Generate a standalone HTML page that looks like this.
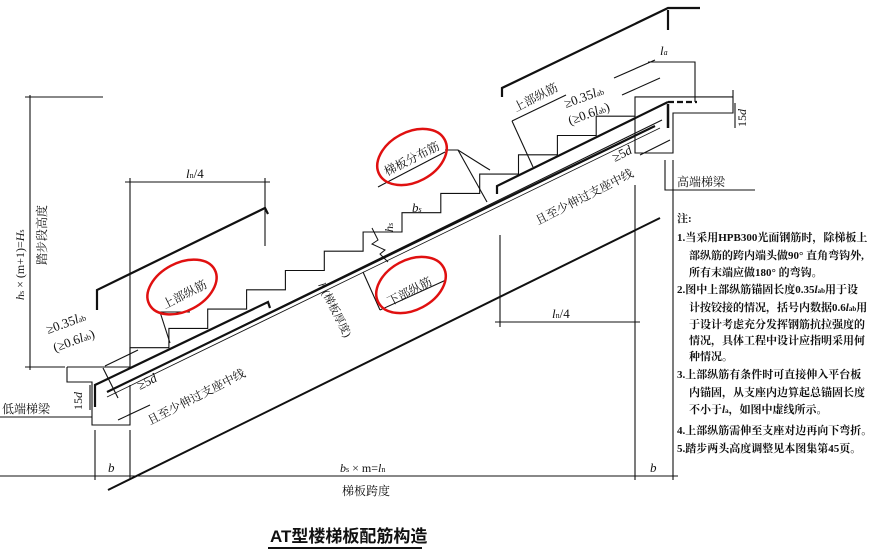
<!DOCTYPE html>
<html><head><meta charset="utf-8"><style>
html,body{margin:0;padding:0;background:#fff}
svg{display:block}
text{font-family:"Liberation Serif","Noto Serif CJK SC","Noto Sans CJK SC",serif;fill:#111}
.c{font-family:"Liberation Sans","Noto Sans CJK SC",sans-serif}
</style></head><body>
<svg width="887" height="555" viewBox="0 0 887 555" xmlns="http://www.w3.org/2000/svg">
<g fill="none" stroke="#111" stroke-width="1.1">
<polyline points="67,367 130,367 130,347.7 168.9,347.7 168.9,328.4 207.7,328.4 207.7,309.1 246.6,309.1 246.6,289.8 285.4,289.8 285.4,270.5 324.3,270.5 324.3,251.2 363.1,251.2 363.1,232 402,232 402,212.7 440.8,212.7 440.8,193.4 479.7,193.4 479.7,174.1 518.5,174.1 518.5,154.8 557.4,154.8 557.4,135.5 596.2,135.5 596.2,116.2 635,116.2 635,96.9 733,96.9"/>
<polyline points="67,367 67,382 92,382 92,425 130,425 130,385"/>
<line x1="130" y1="381" x2="662" y2="120"/>
<polyline points="635,116 635,153 673,153 673,113 733,113 733,90"/>
<line x1="108" y1="490" x2="660" y2="218" stroke-width="2"/>
<line x1="107" y1="392" x2="655" y2="126" stroke-width="2.2"/>
<line x1="107" y1="397" x2="660" y2="128" stroke-width="0.8"/>
<polyline points="95,407 95,385 268,302 270,308" stroke-width="2.2"/>
<polyline points="497,194 497,186 668,102" stroke-width="2.2"/>
<line x1="668" y1="102" x2="697" y2="102" stroke-width="2.2" stroke-dasharray="6,3"/>
<line x1="668" y1="104" x2="668" y2="128" stroke-width="2.5"/>
<polyline points="97,310 97,290 265,208 268,214" stroke-width="2.2"/>
<polyline points="502,97 502,88 668,8 700,8" stroke-width="2.2"/>
<line x1="668" y1="10" x2="668" y2="30" stroke-width="2.2"/>
<polyline points="372,228 378,240 372,244 385,250 380,254 388,262" stroke-width="1"/>
<line x1="30" y1="95" x2="30" y2="370"/><line x1="25" y1="97" x2="103" y2="97"/><line x1="25" y1="367" x2="65" y2="367"/>
<line x1="130" y1="178" x2="130" y2="360"/><line x1="265" y1="178" x2="265" y2="246"/><line x1="125" y1="182" x2="270" y2="182"/>
<line x1="500" y1="235" x2="500" y2="327"/><line x1="635" y1="185" x2="635" y2="480"/><line x1="495" y1="322" x2="640" y2="322"/>
<line x1="0" y1="476" x2="678" y2="476"/>
<line x1="95" y1="430" x2="95" y2="480"/><line x1="130" y1="430" x2="130" y2="480"/><line x1="673" y1="160" x2="673" y2="480"/>
<line x1="0" y1="417" x2="92" y2="417"/>
<polyline points="665,160 665,190 755,190"/>
<polyline points="648,62 695,62 695,102"/>
<line x1="90" y1="385" x2="90" y2="410"/>
<line x1="735" y1="103" x2="735" y2="128"/>
<line x1="103" y1="368" x2="118" y2="398"/><line x1="105" y1="366" x2="138" y2="350"/>
<line x1="118" y1="420" x2="150" y2="405"/>
<line x1="614" y1="78" x2="655" y2="60"/><line x1="622" y1="95" x2="660" y2="78"/>
<line x1="640" y1="155" x2="670" y2="140"/>
<polyline points="160,312 190,312"/><line x1="160" y1="312" x2="170" y2="343"/>
<line x1="378" y1="187" x2="445" y2="152"/><polyline points="445,150 458,150 485,167 490,170"/><line x1="458" y1="150" x2="487" y2="202"/>
<line x1="380" y1="310" x2="446" y2="280"/><line x1="380" y1="310" x2="363" y2="272"/>
<line x1="512" y1="121" x2="566" y2="95"/><line x1="512" y1="121" x2="533" y2="167"/>
</g>
<g fill="none" stroke="#e01010" stroke-width="2.5">
<ellipse cx="182" cy="287" rx="37" ry="24" transform="rotate(-28 182 287)"/>
<ellipse cx="412" cy="157" rx="37" ry="25" transform="rotate(-28 412 157)"/>
<ellipse cx="411" cy="285" rx="37" ry="25" transform="rotate(-28 411 285)"/>
</g>
<g font-size="12">
<text transform="translate(165,309) rotate(-27)">上部纵筋</text>
<text transform="translate(387,176) rotate(-27)">梯板分布筋</text>
<text transform="translate(390,306) rotate(-27)">下部纵筋</text>
<text transform="translate(516,112) rotate(-27)">上部纵筋</text>
<text transform="translate(48,334) rotate(-20)" font-size="13">≥0.35<tspan font-style="italic">l</tspan><tspan font-size="8">ab</tspan></text>
<text transform="translate(55,352) rotate(-20)" font-size="13">(≥0.6<tspan font-style="italic">l</tspan><tspan font-size="8">ab</tspan>)</text>
<text transform="translate(566,108) rotate(-20)" font-size="13">≥0.35<tspan font-style="italic">l</tspan><tspan font-size="8">ab</tspan></text>
<text transform="translate(570,125) rotate(-20)" font-size="13">(≥0.6<tspan font-style="italic">l</tspan><tspan font-size="8">ab</tspan>)</text>
<text transform="translate(140,390) rotate(-27)" font-size="13">≥5<tspan font-style="italic">d</tspan></text>
<text transform="translate(150,425) rotate(-27)">且至少伸过支座中线</text>
<text transform="translate(615,162) rotate(-27)" font-size="13">≥5<tspan font-style="italic">d</tspan></text>
<text transform="translate(538,225) rotate(-27)">且至少伸过支座中线</text>
<text transform="translate(82,410) rotate(-90)" font-size="12">15<tspan font-style="italic">d</tspan></text>
<text transform="translate(746,127) rotate(-90)" font-size="12">15<tspan font-style="italic">d</tspan></text>
<text x="2" y="413">低端梯梁</text>
<text x="677" y="186">高端梯梁</text>
<text x="660" y="55" font-style="italic" font-size="13">l<tspan font-size="8">a</tspan></text>
<text x="186" y="178" font-style="italic" font-size="13">l<tspan font-size="8" font-style="normal">n</tspan><tspan font-style="normal">/4</tspan></text>
<text x="552" y="318" font-style="italic" font-size="13">l<tspan font-size="8" font-style="normal">n</tspan><tspan font-style="normal">/4</tspan></text>
<text x="108" y="472" font-style="italic" font-size="13">b</text>
<text x="650" y="472" font-style="italic" font-size="13">b</text>
<text x="340" y="472" font-size="12"><tspan font-style="italic">b</tspan><tspan font-size="8">s</tspan> × m=<tspan font-style="italic">l</tspan><tspan font-size="8">n</tspan></text>
<text x="342" y="495">梯板跨度</text>
<text x="412" y="212" font-style="italic" font-size="13">b<tspan font-size="8">s</tspan></text>
<text transform="translate(393,232) rotate(-90)" font-style="italic" font-size="12">h<tspan font-size="8">s</tspan></text>
<text transform="translate(318,285) rotate(63)" font-size="11"><tspan font-style="italic">h</tspan> (梯板厚度)</text>
<text transform="translate(24,300) rotate(-90)" font-size="12"><tspan font-style="italic">h</tspan><tspan font-size="8">s</tspan> × (m+1)=<tspan font-style="italic">H</tspan><tspan font-size="8">s</tspan></text>
<text transform="translate(46,265) rotate(-90)" font-size="12">踏步段高度</text>
</g>
<g font-size="11" class="c" font-weight="bold">
<text x="677" y="222">注:</text>
<text x="677" y="241">1.当采用HPB300光面钢筋时，除梯板上</text>
<text x="689" y="259">部纵筋的跨内端头做90° 直角弯钩外,</text>
<text x="689" y="276">所有末端应做180° 的弯钩。</text>
<text x="677" y="293">2.图中上部纵筋锚固长度0.35<tspan font-style="italic">l</tspan><tspan font-size="7">ab</tspan>用于设</text>
<text x="689" y="311">计按铰接的情况，括号内数据0.6<tspan font-style="italic">l</tspan><tspan font-size="7">ab</tspan>用</text>
<text x="689" y="328">于设计考虑充分发挥钢筋抗拉强度的</text>
<text x="689" y="344">情况，具体工程中设计应指明采用何</text>
<text x="689" y="360">种情况。</text>
<text x="677" y="378">3.上部纵筋有条件时可直接伸入平台板</text>
<text x="689" y="396">内锚固，从支座内边算起总锚固长度</text>
<text x="689" y="413">不小于<tspan font-style="italic">l</tspan><tspan font-size="7">a</tspan>，如图中虚线所示。</text>
<text x="677" y="434">4.上部纵筋需伸至支座对边再向下弯折。</text>
<text x="677" y="452">5.踏步两头高度调整见本图集第45页。</text>
</g>
<text x="270" y="542" class="c" font-size="17" font-weight="bold">AT型楼梯板配筋构造</text>
<line x1="268" y1="548" x2="422" y2="548" stroke="#111" stroke-width="2"/>
</svg>
</body></html>
